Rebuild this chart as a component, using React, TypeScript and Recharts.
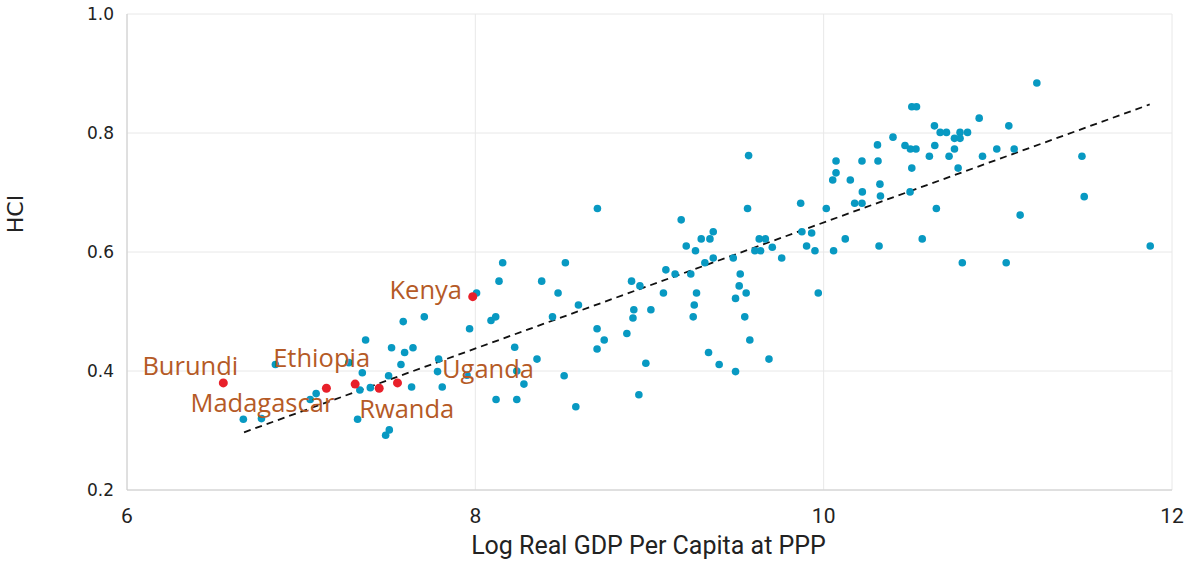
import React from 'react';
import { ScatterChart, Scatter, XAxis, YAxis, CartesianGrid, ReferenceLine, Label } from 'recharts';

const blueX = [8.007, 6.852, 6.668, 6.772, 7.052, 7.086, 7.274, 7.351, 7.370, 7.337, 7.397, 7.324, 7.485, 7.506, 7.502, 7.519, 7.573, 7.594, 7.586, 7.642, 7.707, 7.634, 7.789, 7.783, 7.810, 7.967, 7.952,
  8.157, 8.136, 8.090, 8.117, 8.226, 8.119, 8.238, 8.238, 8.279, 8.354, 8.381, 8.475, 8.443, 8.517, 8.592, 8.510, 8.577, 8.699, 8.740, 8.699, 8.870, 8.905, 8.910, 8.897, 8.945, 9.008, 8.979, 8.939,
  9.080, 9.094, 9.147, 9.211, 9.264, 9.237, 9.270, 9.257, 9.251, 9.318, 9.366, 9.339, 9.400, 9.481, 9.521, 9.515, 9.494, 9.555, 9.547, 9.576, 9.494, 9.686, 9.605, 9.638, 9.705, 9.759,
  8.701, 9.182, 9.297, 9.347, 9.366, 9.569, 9.563, 9.630, 9.665, 9.868, 9.875, 9.931, 9.902, 9.950, 9.969, 10.015, 10.057, 10.124, 10.052, 10.071, 10.071, 10.153, 10.178, 10.220, 10.222, 10.220, 10.309, 10.312, 10.323, 10.326, 10.318,
  11.224, 10.506, 10.533, 10.893, 10.636, 11.063, 10.669, 10.705, 10.783, 10.826, 10.751, 10.783, 10.398, 10.467, 10.498, 10.530, 10.638, 10.751, 10.994, 11.094, 10.607, 10.720, 10.912, 11.483, 10.506, 10.772, 10.496, 10.647, 11.496, 11.128, 10.566, 10.796, 11.048, 11.875];
const blueY = [0.531, 0.411, 0.319, 0.320, 0.352, 0.362, 0.414, 0.397, 0.452, 0.368, 0.372, 0.319, 0.292, 0.301, 0.392, 0.439, 0.411, 0.431, 0.483, 0.439, 0.491, 0.373, 0.420, 0.399, 0.373, 0.471, 0.393,
  0.582, 0.551, 0.485, 0.491, 0.440, 0.352, 0.352, 0.400, 0.378, 0.420, 0.551, 0.531, 0.491, 0.582, 0.511, 0.392, 0.340, 0.471, 0.452, 0.437, 0.463, 0.489, 0.503, 0.551, 0.543, 0.503, 0.413, 0.360,
  0.531, 0.570, 0.563, 0.610, 0.602, 0.563, 0.531, 0.511, 0.491, 0.582, 0.590, 0.431, 0.411, 0.590, 0.563, 0.543, 0.522, 0.531, 0.491, 0.452, 0.399, 0.420, 0.602, 0.602, 0.608, 0.590,
  0.673, 0.654, 0.622, 0.622, 0.634, 0.762, 0.673, 0.622, 0.622, 0.682, 0.634, 0.632, 0.610, 0.602, 0.531, 0.673, 0.602, 0.622, 0.721, 0.733, 0.753, 0.721, 0.682, 0.682, 0.701, 0.753, 0.780, 0.753, 0.714, 0.694, 0.610,
  0.884, 0.844, 0.844, 0.825, 0.812, 0.812, 0.801, 0.801, 0.801, 0.801, 0.791, 0.791, 0.793, 0.779, 0.773, 0.773, 0.779, 0.773, 0.773, 0.773, 0.761, 0.761, 0.761, 0.761, 0.741, 0.741, 0.701, 0.673, 0.693, 0.662, 0.622, 0.582, 0.582, 0.610];

const countries = ['Burundi', 'Madagascar', 'Ethiopia', 'Rwanda', 'Uganda', 'Kenya'];
const countryX = [6.553, 7.145, 7.310, 7.448, 7.553, 7.985];
const countryY = [0.380, 0.371, 0.378, 0.371, 0.380, 0.525];

const trendX = [6.672, 11.872];
const trendY = [0.297, 0.848];

const xTicks = [6, 8, 10, 12];
const yTicks = [0.2, 0.4, 0.6, 0.8, 1.0];

const labelOffsets: Record<string, [number, number]> = {
  Burundi: [-33, -8],
  Madagascar: [-64, 23.5],
  Ethiopia: [-33.5, -17],
  Rwanda: [27.5, 30],
  Uganda: [90.5, -5],
  Kenya: [-47, 2],
};

const blueData = blueX.map((x, i) => ({ x, y: blueY[i] }));
const redData = countries.map((name, i) => ({ name, x: countryX[i], y: countryY[i] }));

const condensed = "'Roboto', sans-serif";

const RedDot = (props: any) => {
  const { cx, cy, payload } = props;
  const off = labelOffsets[payload.name] || [0, 0];
  return (
    <g>
      <circle cx={cx} cy={cy} r={4.5} fill="#e8202a" />
      <text x={cx + off[0]} y={cy + off[1]} textAnchor="middle" fill="#b55a26"
        style={{ fontFamily: "'Open Sans', sans-serif", fontSize: 25.5 }}>{payload.name}</text>
    </g>
  );
};

const BlueDot = (props: any) => {
  const { cx, cy } = props;
  return <circle cx={cx} cy={cy} r={3.8} fill="#0899c2" />;
};

export default function App() {
  return (
    <div style={{ position: 'absolute', left: 0, top: 0, background: '#fff' }}>
      <ScatterChart width={1192} height={573} margin={{ top: 14, right: 20, bottom: 13, left: 67 }}>
        <CartesianGrid stroke="#e8e8e8" strokeWidth={1} />
        <XAxis type="number" dataKey="x" domain={[6, 12]} ticks={xTicks} tickLine={false}
          axisLine={{ stroke: '#cccccc' }} height={70} tickMargin={12}
          tick={{ fill: '#222', fontSize: 21, fontFamily: condensed }}>
          <Label value="Log Real GDP Per Capita at PPP" position="insideBottom" offset={6} dx={-1}
            style={{ fill: '#222', fontSize: 25, fontFamily: condensed }} />
        </XAxis>
        <YAxis type="number" dataKey="y" domain={[0.2, 1.0]} ticks={yTicks} tickLine={false}
          axisLine={{ stroke: '#cccccc' }} width={60} tickMargin={7}
          tickFormatter={(v: number) => v.toFixed(1)}
          tick={{ fill: '#222', fontSize: 17, fontFamily: "'DejaVu Sans', sans-serif" }}>
          <Label value="HCI" angle={-90} position="insideLeft" offset={-52} dy={-38}
            style={{ fill: '#222', fontSize: 22, fontFamily: "'DejaVu Sans', sans-serif", textAnchor: 'middle' }} />
        </YAxis>
        <ReferenceLine segment={[{ x: trendX[0], y: trendY[0] }, { x: trendX[1], y: trendY[1] }]}
          stroke="#111" strokeWidth={1.8} strokeDasharray="7 5" ifOverflow="visible" />
        <Scatter data={blueData} shape={BlueDot} isAnimationActive={false} />
        <Scatter data={redData} shape={RedDot} isAnimationActive={false} />
      </ScatterChart>
    </div>
  );
}
